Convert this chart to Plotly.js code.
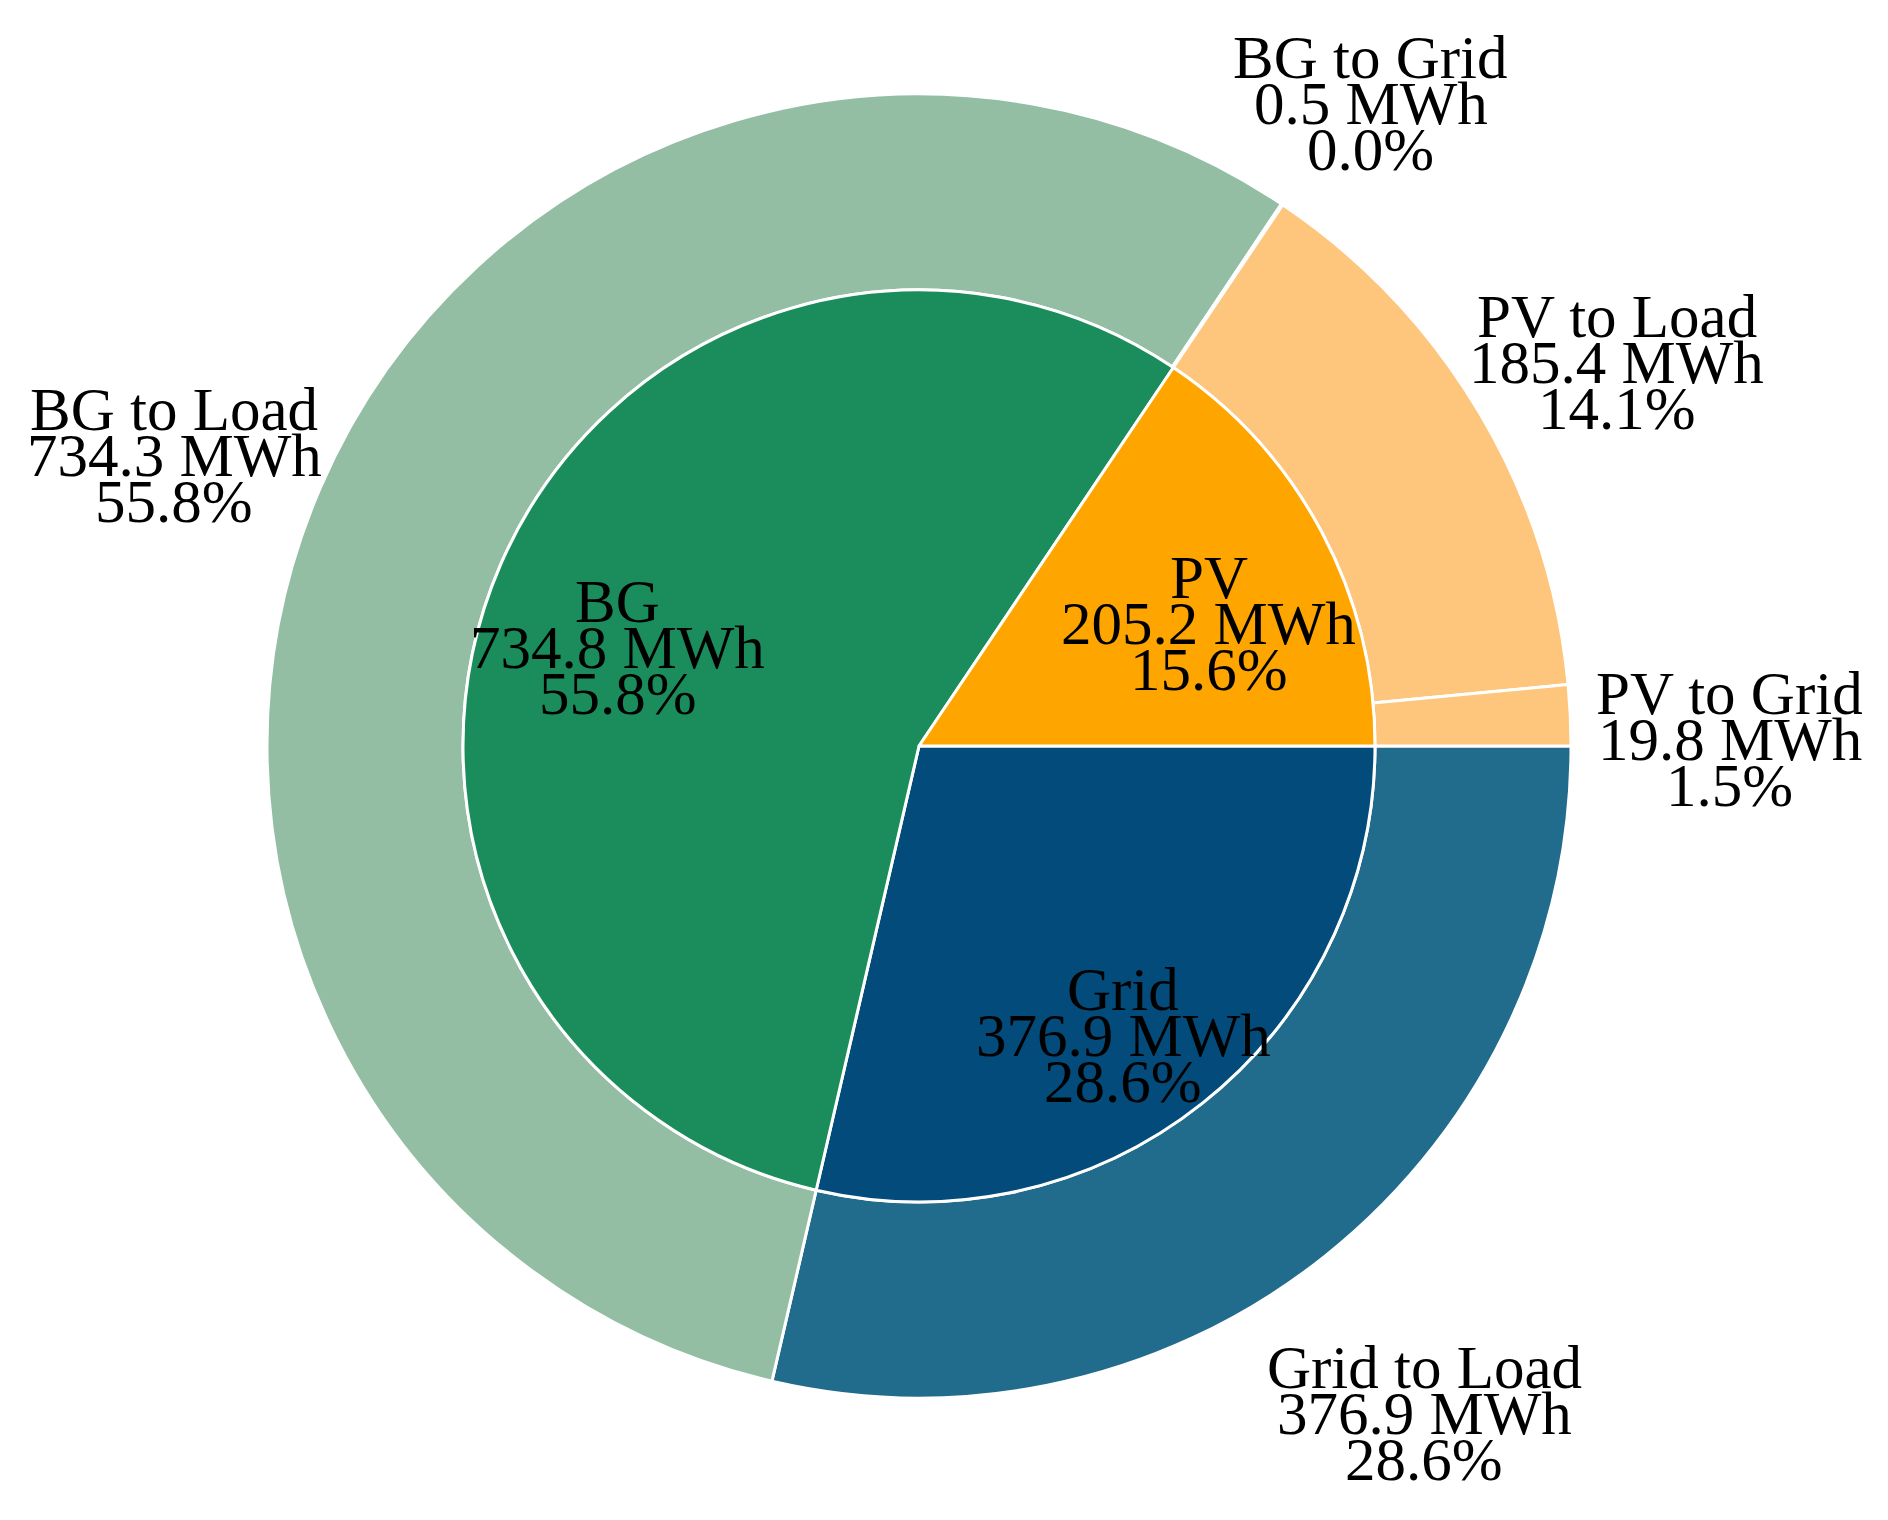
<!DOCTYPE html>
<html>
<head>
<meta charset="utf-8">
<script src="https://cdn.plot.ly/plotly-3.0.1.min.js"></script>
<style>html,body{margin:0;padding:0;background:#fff;}</style>
</head>
<body>
<div id="chart" style="width:1888px;height:1520px;"></div>
<script>
// Inner ring (sources), clockwise from 3 o'clock
const innerLabels = ["Grid", "BG", "PV"];
const innerValues = [376.9, 734.8, 205.2];
const innerColors = ["#024b7a", "#1b8c5b", "#fea500"];

// Outer ring (flows), clockwise from 3 o'clock
const outerLabels = ["Grid to Load", "BG to Load", "BG to Grid", "PV to Load", "PV to Grid"];
const outerValues = [376.9, 734.3, 0.5, 185.4, 19.8];
const outerColors = ["#216b8c", "#93bea4", "#93bea4", "#fec67c", "#fec67c"];

const unit = "MWh";

// geometry (pixels)
const W = 1888, H = 1520;
const cx = 919, cy = 746;
const R_OUT = 652, R_IN = 456;
const FONT = "Liberation Serif, Times New Roman, serif";
const FSIZE = 61;
const LINE_GAP = 46;
const Y_SHIFT = 32;

function domainFor(r) {
  return {
    x: [(cx - r) / W, (cx + r) / W],
    y: [1 - (cy + r) / H, 1 - (cy - r) / H]
  };
}

const traces = [
  {
    type: "pie",
    labels: outerLabels,
    values: outerValues,
    sort: false,
    direction: "clockwise",
    rotation: 90,
    hole: R_IN / R_OUT,
    domain: domainFor(R_OUT),
    marker: {colors: outerColors, line: {color: "#ffffff", width: 3}},
    textinfo: "none",
    showlegend: false,
    automargin: false
  },
  {
    type: "pie",
    labels: innerLabels,
    values: innerValues,
    sort: false,
    direction: "clockwise",
    rotation: 90,
    domain: domainFor(R_IN),
    marker: {colors: innerColors, line: {color: "#ffffff", width: 3}},
    textinfo: "none",
    showlegend: false,
    automargin: false
  }
];

function labelAnnotations(labels, values, radius) {
  const total = values.reduce((a, b) => a + b, 0);
  const anns = [];
  let cum = 0;
  labels.forEach((lab, i) => {
    const mid = (cum + values[i] / 2) / total * 2 * Math.PI; // clockwise from 3 o'clock
    cum += values[i];
    const px = cx + radius * Math.cos(mid);
    const py = cy + radius * Math.sin(mid) + Y_SHIFT;
    const lines = [lab, values[i].toFixed(1) + " " + unit, (values[i] / total * 100).toFixed(1) + "%"];
    lines.forEach((t, k) => {
      const ly = py + (k - 1) * LINE_GAP;
      anns.push({
        xref: "paper", yref: "paper",
        x: px / W, y: 1 - ly / H,
        xanchor: "center", yanchor: "middle",
        text: t, showarrow: false,
        font: {family: FONT, size: FSIZE, color: "#000000"}
      });
    });
  });
  return anns;
}

const annotations = labelAnnotations(innerLabels, innerValues, R_IN * 0.72)
  .concat(labelAnnotations(outerLabels, outerValues, R_OUT * 1.245));

const layout = {
  width: W, height: H,
  margin: {l: 0, r: 0, t: 0, b: 0},
  paper_bgcolor: "#ffffff",
  showlegend: false,
  annotations: annotations
};

Plotly.newPlot("chart", traces, layout, {displayModeBar: false, staticPlot: true});
</script>
</body>
</html>
